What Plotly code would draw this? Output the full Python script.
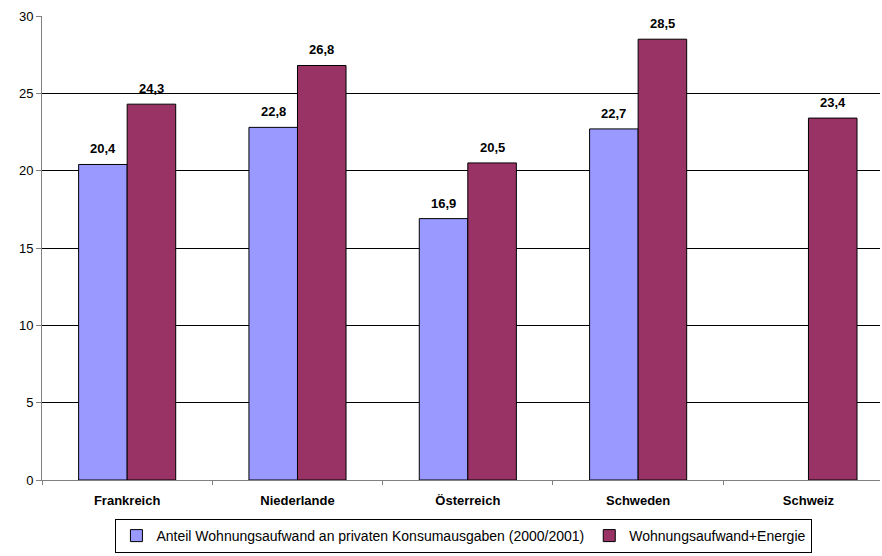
import plotly.graph_objects as go

categories = ["Frankreich", "Niederlande", "Österreich", "Schweden", "Schweiz"]
anteil = [20.4, 22.8, 16.9, 22.7, None]
energie = [24.3, 26.8, 20.5, 28.5, 23.4]
name1 = "Anteil Wohnungsaufwand an privaten Konsumausgaben (2000/2001)"
name2 = "Wohnungsaufwand+Energie"
y_ticks = [0, 5, 10, 15, 20, 25, 30]

def lab(v):
    return "" if v is None else f"{v:.1f}".replace(".", ",")

font = "Liberation Sans, Arial, sans-serif"
W, H = 882, 556
ML, MR = 42, 2
x_range = [-0.5, 4.42]
bargap = 0.43
px_per_unit = (W - ML - MR) / (x_range[1] - x_range[0])
bar_off = (1 - bargap) / 4 * px_per_unit

fig = go.Figure()
fig.add_bar(x=categories, y=anteil, name=name1,
            marker=dict(color="#9999FF", line=dict(color="black", width=1)))
fig.add_bar(x=categories, y=energie, name=name2,
            marker=dict(color="#993366", line=dict(color="black", width=1)))

for series, sign in ((anteil, -1), (energie, 1)):
    for c, v in zip(categories, series):
        if v is None:
            continue
        fig.add_annotation(x=c, y=v, text=lab(v), showarrow=False, xshift=sign * bar_off,
                           yanchor="bottom", yshift=6,
                           font=dict(family=font, size=13, color="black", weight="bold"))

fig.update_layout(
    width=W, height=H, margin=dict(l=ML, r=MR, t=16, b=76),
    paper_bgcolor="white", plot_bgcolor="white",
    barmode="group", bargap=bargap, bargroupgap=0,
    font=dict(family=font, size=13, color="black"),
    legend=dict(orientation="h", xref="container", yref="container", x=0.526, y=3 / 556,
                xanchor="center", yanchor="bottom", bordercolor="black", borderwidth=1,
                font=dict(size=14), itemwidth=30, tracegroupgap=0),
)
fig.update_yaxes(range=[0, 30], tickvals=y_ticks, showgrid=True, gridcolor="black", gridwidth=1,
                 showline=True, linecolor="#808080", linewidth=1, ticks="outside", ticklen=5,
                 tickcolor="#808080", tickfont=dict(size=13), zeroline=False)
fig.update_xaxes(range=x_range, showline=True, linecolor="#808080", linewidth=1,
                 ticks="outside", tickson="boundaries", ticklen=4, tickcolor="#808080",
                 tickfont=dict(size=13, weight="bold"), ticklabelstandoff=8, showgrid=False)
fig.write_html("out.html")
